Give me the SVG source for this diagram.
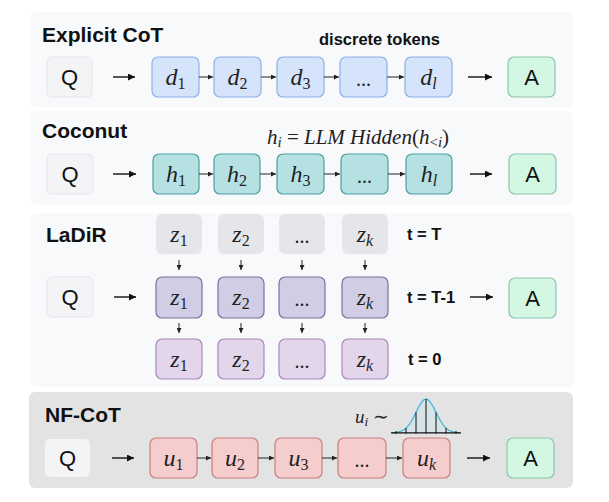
<svg xmlns="http://www.w3.org/2000/svg" width="609" height="502" viewBox="0 0 609 502">
<defs>
<style>
.panel{fill:#f8f9fb}
.panel4{fill:#e3e3e3}
.title{font-family:"Liberation Sans",Arial,sans-serif;font-weight:bold;font-size:21px;fill:#111}
.lbl{font-family:"Liberation Sans",Arial,sans-serif;font-weight:bold;font-size:16.5px;fill:#111}
.qa{font-family:"Liberation Sans",Arial,sans-serif;font-size:22px;fill:#111;text-anchor:middle}
.math{font-family:"Liberation Serif","Times New Roman",serif;font-style:italic;font-size:24px;fill:#222;text-anchor:middle}
.sub{font-style:normal;font-size:16px}
.subi{font-style:italic;font-size:16px}
.dots{font-family:"Liberation Serif","Times New Roman",serif;font-size:20px;fill:#222;text-anchor:middle}
.q{fill:#f3f4f6;stroke:#e3e5e8;stroke-width:1}
.a{fill:#d4f7e3;stroke:#8cc6aa;stroke-width:1.2}
.d{fill:#d5e3fb;stroke:#8fb0e6;stroke-width:1.2}
.h{fill:#b5e1e3;stroke:#4f9c9f;stroke-width:1.2}
.zg{fill:#e5e6e9}
.zm{fill:#d1cde5;stroke:#7c719f;stroke-width:1.2}
.zb{fill:#e3d6ea;stroke:#a787b9;stroke-width:1.2}
.u{fill:#f5cdcd;stroke:#c97e7e;stroke-width:1.2}
.big{stroke:#111;stroke-width:1.4;fill:none}
.small{stroke:#222;stroke-width:1;fill:none}
</style>
<marker id="ah" viewBox="0 0 10 10" refX="10" refY="5" markerWidth="8" markerHeight="7" markerUnits="userSpaceOnUse" orient="auto"><path d="M0,0 L10,5 L0,10 z" fill="#111"/></marker>
<marker id="as" viewBox="0 0 10 10" refX="10" refY="5" markerWidth="5" markerHeight="5" markerUnits="userSpaceOnUse" orient="auto"><path d="M0,0 L10,5 L0,10 z" fill="#222"/></marker>
</defs>

<!-- panels -->
<rect class="panel" x="30" y="12" width="543" height="95" rx="6"/>
<rect class="panel" x="30" y="111" width="543" height="94" rx="6"/>
<rect class="panel" x="31" y="213" width="543" height="174" rx="6"/>
<rect class="panel4" x="29" y="392" width="544" height="96" rx="6"/>

<!-- titles -->
<text class="title" x="42" y="42">Explicit CoT</text>
<text class="lbl" x="319" y="45" font-size="17">discrete tokens</text>
<text class="title" x="42" y="138">Coconut</text>
<text class="title" x="46" y="242">LaDiR</text>
<text class="title" x="45" y="422">NF-CoT</text>

<!-- Coconut formula -->
<text x="267" y="144" font-family="'Liberation Serif','Times New Roman',serif" font-size="21" fill="#222"><tspan font-style="italic">h</tspan><tspan font-style="italic" font-size="15" dy="3">i</tspan><tspan dy="-3"> = </tspan><tspan font-style="italic">LLM Hidden</tspan><tspan>(</tspan><tspan font-style="italic">h</tspan><tspan font-size="15" dy="3">&lt;</tspan><tspan font-style="italic" font-size="15">i</tspan><tspan dy="-3">)</tspan></text>

<!-- LaDiR labels -->
<text class="lbl" x="407" y="240">t = T</text>
<text class="lbl" x="407" y="303">t = T-1</text>
<text class="lbl" x="408" y="365">t = 0</text>

<!-- NF-CoT formula -->
<text x="355" y="423" font-family="'Liberation Serif','Times New Roman',serif" font-size="19" fill="#222"><tspan font-style="italic">u</tspan><tspan font-style="italic" font-size="13" dy="3">i</tspan><tspan dy="-3"> ∼</tspan></text>
<g id="gaussian">
<path d="M392,432.7 L396,432.3 L398.5,431.9 L401,431.2 L403.5,430 L406,428.1 L408.5,425.4 L411,421.8 L413.5,417.3 L416,412.3 L418.5,407.3 L421,403 L423.5,400 L426,399 L428.5,400 L431,403 L433.5,407.3 L436,412.3 L438.5,417.3 L441,421.8 L443.5,425.4 L446,428.1 L448.5,430 L451,431.2 L453.5,431.9 L456,432.3 L460,432.6 Z" fill="#d6e3e7" stroke="none"/>
<path d="M392,432.6 L396,432.3 L398.5,431.9 L401,431.2 L403.5,430 L406,428.1 L408.5,425.4 L411,421.8 L413.5,417.3 L416,412.3 L418.5,407.3 L421,403 L423.5,400 L426,399 L428.5,400 L431,403 L433.5,407.3 L436,412.3 L438.5,417.3 L441,421.8 L443.5,425.4 L446,428.1 L448.5,430 L451,431.2 L453.5,431.9 L456,432.3 L460,432.6" fill="none" stroke="#3fb3d8" stroke-width="1.2"/>
<g stroke="#111" stroke-width="1">
<line x1="406" y1="433.5" x2="406" y2="428.1"/>
<line x1="416" y1="433.5" x2="416" y2="412.3"/>
<line x1="426" y1="433.5" x2="426" y2="399"/>
<line x1="436" y1="433.5" x2="436" y2="412.3"/>
<line x1="446" y1="433.5" x2="446" y2="428.1"/>
<line x1="396" y1="434" x2="396" y2="431"/>
<line x1="456" y1="434" x2="456" y2="431"/>
<line x1="391" y1="432.9" x2="461" y2="432.9" stroke-width="1.2"/>
</g>
</g>

<!-- Explicit CoT nodes -->
<g id="ecot-q"><rect class="q" x="47" y="57" width="45" height="40" rx="5"/><text class="qa" x="69.5" y="85">Q</text></g>
<g id="ecot-d1"><rect class="d" x="152" y="57" width="47" height="40" rx="6"/><text class="math" x="175.5" y="85">d<tspan class="sub" dy="4">1</tspan></text></g>
<g id="ecot-d2"><rect class="d" x="214" y="57" width="47" height="40" rx="6"/><text class="math" x="237.5" y="85">d<tspan class="sub" dy="4">2</tspan></text></g>
<g id="ecot-d3"><rect class="d" x="277" y="57" width="47" height="40" rx="6"/><text class="math" x="300.5" y="85">d<tspan class="sub" dy="4">3</tspan></text></g>
<g id="ecot-dots"><rect class="d" x="340" y="57" width="47" height="40" rx="6"/><text class="dots" x="363.5" y="86">...</text></g>
<g id="ecot-dl"><rect class="d" x="405" y="57" width="47" height="40" rx="6"/><text class="math" x="428.5" y="85">d<tspan class="subi" dy="4">l</tspan></text></g>
<g id="ecot-a"><rect class="a" x="508" y="57" width="47" height="40" rx="6"/><text class="qa" x="531.5" y="85">A</text></g>

<!-- Coconut nodes -->
<g id="coco-q"><rect class="q" x="47" y="154" width="46" height="40" rx="5"/><text class="qa" x="70" y="182">Q</text></g>
<g id="coco-h1"><rect class="h" x="153" y="154" width="46" height="40" rx="6"/><text class="math" x="176" y="182">h<tspan class="sub" dy="4">1</tspan></text></g>
<g id="coco-h2"><rect class="h" x="214" y="154" width="46" height="40" rx="6"/><text class="math" x="237" y="182">h<tspan class="sub" dy="4">2</tspan></text></g>
<g id="coco-h3"><rect class="h" x="277" y="154" width="47" height="40" rx="6"/><text class="math" x="300.5" y="182">h<tspan class="sub" dy="4">3</tspan></text></g>
<g id="coco-dots"><rect class="h" x="341" y="154" width="47" height="40" rx="6"/><text class="dots" x="364.5" y="183">...</text></g>
<g id="coco-hl"><rect class="h" x="406" y="154" width="46" height="40" rx="6"/><text class="math" x="429" y="182">h<tspan class="subi" dy="4">l</tspan></text></g>
<g id="coco-a"><rect class="a" x="509" y="154" width="47" height="40" rx="6"/><text class="qa" x="532.5" y="182">A</text></g>

<!-- LaDiR nodes -->
<g id="ladir-q"><rect class="q" x="47" y="277" width="46" height="40" rx="5"/><text class="qa" x="70" y="305">Q</text></g>
<g id="ladir-T-z1"><rect class="zg" x="156" y="214" width="46" height="40" rx="6"/><text class="math" x="179" y="242">z<tspan class="sub" dy="4">1</tspan></text></g>
<g id="ladir-T-z2"><rect class="zg" x="218" y="214" width="46" height="40" rx="6"/><text class="math" x="241" y="242">z<tspan class="sub" dy="4">2</tspan></text></g>
<g id="ladir-T-dots"><rect class="zg" x="279" y="214" width="46" height="40" rx="6"/><text class="dots" x="302" y="243">...</text></g>
<g id="ladir-T-zk"><rect class="zg" x="342" y="214" width="46" height="40" rx="6"/><text class="math" x="365" y="242">z<tspan class="subi" dy="4">k</tspan></text></g>
<g id="ladir-M-z1"><rect class="zm" x="156" y="277" width="46" height="41" rx="6"/><text class="math" x="179" y="305">z<tspan class="sub" dy="4">1</tspan></text></g>
<g id="ladir-M-z2"><rect class="zm" x="218" y="277" width="46" height="41" rx="6"/><text class="math" x="241" y="305">z<tspan class="sub" dy="4">2</tspan></text></g>
<g id="ladir-M-dots"><rect class="zm" x="279" y="277" width="46" height="41" rx="6"/><text class="dots" x="302" y="306">...</text></g>
<g id="ladir-M-zk"><rect class="zm" x="342" y="277" width="46" height="41" rx="6"/><text class="math" x="365" y="305">z<tspan class="subi" dy="4">k</tspan></text></g>
<g id="ladir-B-z1"><rect class="zb" x="156" y="339" width="46" height="40" rx="6"/><text class="math" x="179" y="367">z<tspan class="sub" dy="4">1</tspan></text></g>
<g id="ladir-B-z2"><rect class="zb" x="218" y="339" width="46" height="40" rx="6"/><text class="math" x="241" y="367">z<tspan class="sub" dy="4">2</tspan></text></g>
<g id="ladir-B-dots"><rect class="zb" x="279" y="339" width="46" height="40" rx="6"/><text class="dots" x="302" y="368">...</text></g>
<g id="ladir-B-zk"><rect class="zb" x="342" y="339" width="46" height="40" rx="6"/><text class="math" x="365" y="367">z<tspan class="subi" dy="4">k</tspan></text></g>
<g id="ladir-a"><rect class="a" x="509" y="278" width="47" height="40" rx="6"/><text class="qa" x="532.5" y="306">A</text></g>

<!-- NF-CoT nodes -->
<g id="nf-q"><rect x="45" y="439" width="45" height="38" rx="5" fill="#f3f4f6"/><text class="qa" x="67.5" y="466">Q</text></g>
<g id="nf-u1"><rect class="u" x="150" y="438" width="47" height="40" rx="6"/><text class="math" x="173.5" y="466">u<tspan class="sub" dy="4">1</tspan></text></g>
<g id="nf-u2"><rect class="u" x="212" y="438" width="46" height="40" rx="6"/><text class="math" x="235" y="466">u<tspan class="sub" dy="4">2</tspan></text></g>
<g id="nf-u3"><rect class="u" x="275" y="438" width="47" height="40" rx="6"/><text class="math" x="298.5" y="466">u<tspan class="sub" dy="4">3</tspan></text></g>
<g id="nf-dots"><rect class="u" x="338" y="438" width="48" height="40" rx="6"/><text class="dots" x="362" y="467">...</text></g>
<g id="nf-uk"><rect class="u" x="403" y="438" width="47" height="40" rx="6"/><text class="math" x="426.5" y="466">u<tspan class="subi" dy="4">k</tspan></text></g>
<g id="nf-a"><rect class="a" x="507" y="438" width="47" height="40" rx="6"/><text class="qa" x="530.5" y="466">A</text></g>

<!-- connectors -->
<g id="connectors">
<line class="big" x1="113" y1="77" x2="135" y2="77" marker-end="url(#ah)"/>
<line class="small" x1="199" y1="77" x2="213" y2="77" marker-end="url(#as)"/>
<line class="small" x1="261" y1="77" x2="276" y2="77" marker-end="url(#as)"/>
<line class="small" x1="324" y1="77" x2="339" y2="77" marker-end="url(#as)"/>
<line class="small" x1="387" y1="77" x2="404" y2="77" marker-end="url(#as)"/>
<line class="big" x1="468" y1="77" x2="492" y2="77" marker-end="url(#ah)"/>

<line class="big" x1="113" y1="174" x2="136" y2="174" marker-end="url(#ah)"/>
<line class="small" x1="199" y1="174" x2="213" y2="174" marker-end="url(#as)"/>
<line class="small" x1="260" y1="174" x2="276" y2="174" marker-end="url(#as)"/>
<line class="small" x1="324" y1="174" x2="340" y2="174" marker-end="url(#as)"/>
<line class="small" x1="388" y1="174" x2="405" y2="174" marker-end="url(#as)"/>
<line class="big" x1="470" y1="174" x2="492" y2="174" marker-end="url(#ah)"/>

<line class="big" x1="114" y1="297" x2="136" y2="297" marker-end="url(#ah)"/>
<line class="small" x1="179" y1="260" x2="179" y2="270" marker-end="url(#as)"/>
<line class="small" x1="241" y1="260" x2="241" y2="270" marker-end="url(#as)"/>
<line class="small" x1="302" y1="260" x2="302" y2="270" marker-end="url(#as)"/>
<line class="small" x1="365" y1="260" x2="365" y2="270" marker-end="url(#as)"/>
<line class="small" x1="179" y1="323" x2="179" y2="333" marker-end="url(#as)"/>
<line class="small" x1="241" y1="323" x2="241" y2="333" marker-end="url(#as)"/>
<line class="small" x1="302" y1="323" x2="302" y2="333" marker-end="url(#as)"/>
<line class="small" x1="365" y1="323" x2="365" y2="333" marker-end="url(#as)"/>
<line class="big" x1="470" y1="297" x2="493" y2="297" marker-end="url(#ah)"/>

<line class="big" x1="112" y1="458" x2="134" y2="458" marker-end="url(#ah)"/>
<line class="small" x1="197" y1="458" x2="211" y2="458" marker-end="url(#as)"/>
<line class="small" x1="258" y1="458" x2="274" y2="458" marker-end="url(#as)"/>
<line class="small" x1="322" y1="458" x2="337" y2="458" marker-end="url(#as)"/>
<line class="small" x1="386" y1="458" x2="402" y2="458" marker-end="url(#as)"/>
<line class="big" x1="467" y1="458" x2="490" y2="458" marker-end="url(#ah)"/>
</g>
</svg>
